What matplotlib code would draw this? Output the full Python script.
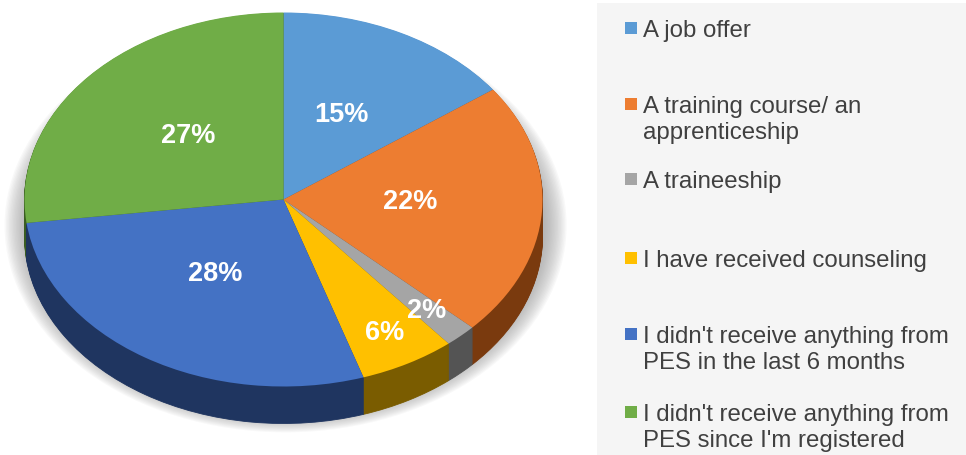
import matplotlib
matplotlib.use("Agg")
import matplotlib.pyplot as plt
from matplotlib.patches import Rectangle, Ellipse
import numpy as np

plt.rcParams['font.family'] = ['Liberation Sans', 'DejaVu Sans']

# ---- data ----
categories = [
    "A job offer",
    "A training course/ an\napprenticeship",
    "A traineeship",
    "I have received counseling",
    "I didn't receive anything from\nPES in the last 6 months",
    "I didn't receive anything from\nPES since I'm registered",
]
values = [15, 22, 2, 6, 28, 27]

# ---- styles ----
top_colors = ['#5B9BD5', '#ED7D31', '#A5A5A5', '#FFC000', '#4472C4', '#70AD47']
side_colors = ['#2E5A88', '#7A3A0E', '#545454', '#7A5C00', '#1F3560', '#3A5E22']

W, H = 966, 456
RX, RY = 259.0, 187.0     # pixels per data unit (horizontal / vertical) -> tilted ellipse
CXP, CYP = 283.5, 200.5   # centre of top face in pixels (from top-left)
DEPTH_PX = 37.0

fig = plt.figure(figsize=(W / 100, H / 100), dpi=100)
fig.patch.set_facecolor('white')
ax = fig.add_axes([0, 0, 1, 1])

cx = CXP / RX
cy = (H - CYP) / RY
depth = DEPTH_PX / RY

# soft shadow
n_sh = 16
for i in range(n_sh):
    s = 1.085 - i * 0.0055
    ax.add_patch(Ellipse((cx + 0.008, cy - depth * 0.7), 2 * s, 2 * s * 1.02,
                         facecolor='#8f8f8f', edgecolor='none', alpha=0.055, zorder=0))

# side wall: stacked pies with darker colours
n_layers = int(DEPTH_PX)
for k in range(n_layers, 0, -1):
    off = depth * k / n_layers
    ax.pie(values, colors=side_colors, startangle=90, counterclock=False,
           center=(cx, cy - off), radius=1.0,
           wedgeprops=dict(linewidth=0.6, antialiased=True))
for w in ax.patches:
    if hasattr(w, 'theta1'):
        w.set_edgecolor(w.get_facecolor())

# top face
wedges, texts, autotexts = ax.pie(
    values, colors=top_colors, startangle=90, counterclock=False,
    center=(cx, cy), radius=1.0,
    autopct=lambda p: f"{p:.0f}%", pctdistance=0.49,
    textprops=dict(color='white', fontsize=19.5, fontweight='bold'),
    wedgeprops=dict(linewidth=0))

for w, t, v in zip(wedges, autotexts, values):
    ang = np.deg2rad((w.theta1 + w.theta2) / 2)
    if v < 10:
        r = 0.81
        t.set_position((cx + r * np.cos(ang), cy + r * np.sin(ang)))
    else:
        x, y = t.get_position()
        t.set_position((x, y + 4 / RY))
    t.set_zorder(20)

ax.set_aspect('auto')
ax.set_xlim(0, W / RX)
ax.set_ylim(0, H / RY)
ax.axis('off')

# ---- legend (pixel coordinates) ----
lax = fig.add_axes([0, 0, 1, 1])
lax.set_xlim(0, W)
lax.set_ylim(H, 0)
lax.axis('off')
lax.add_patch(Rectangle((597, 4), W - 597, H - 4, facecolor='#F5F5F5',
                        edgecolor='none', zorder=0))

legend_baselines = [37, 113, 188, 267, 343, 421]
line_step = 26.5
for lab, col, yb in zip(categories, top_colors, legend_baselines):
    lax.add_patch(Rectangle((625, yb - 14), 12, 12, facecolor=col,
                            edgecolor='none', zorder=2))
    for i, line in enumerate(lab.split('\n')):
        lax.text(643, yb + i * line_step, line, fontsize=17.3, color='#404040',
                 ha='left', va='baseline', zorder=3)

fig.savefig('out.png', dpi=100, facecolor='white')
